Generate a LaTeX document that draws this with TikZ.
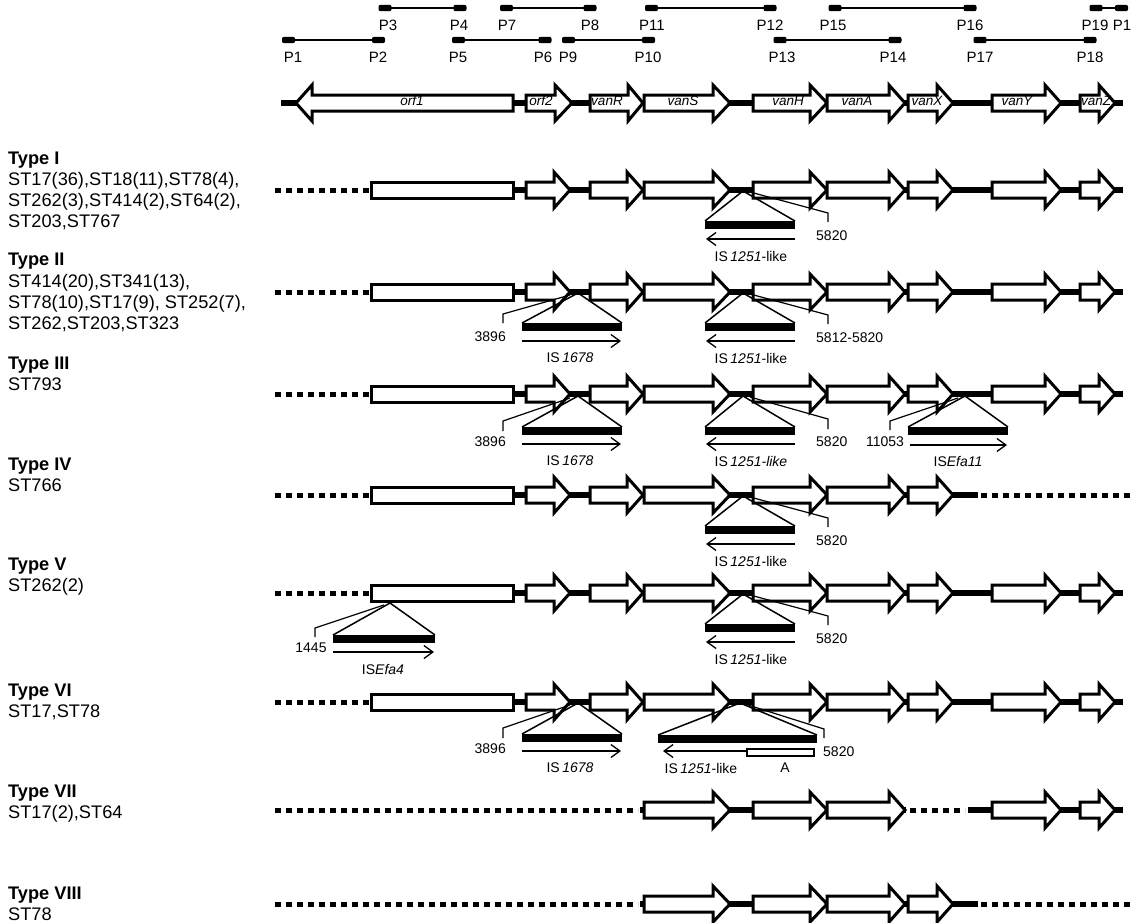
\documentclass[tikz,border=0pt]{standalone}
\usepackage{fontspec}
\setmainfont{Liberation Sans}
\usetikzlibrary{arrows.meta}
\tikzset{
  gene/.style={draw=black, fill=white, line width=3pt, line join=miter, miter limit=10},
  bb/.style={line width=6pt},
  dotl/.style={line width=5pt, dash pattern=on 6pt off 5pt},
  leader/.style={line width=1.2pt},
  tri/.style={line width=1.5pt, line join=round},
  isarr/.style={line width=1.3pt, -{Straight Barb[length=9pt,width=13pt,line width=1.3pt]}},
  lbl/.style={font=\fontsize{18.2}{22}\selectfont, inner sep=0pt, anchor=base west},
  ann/.style={font=\fontsize{14}{16}\selectfont, inner sep=0pt},
  gl/.style={font=\fontsize{13.5}{15}\selectfont\itshape, inner sep=0pt},
  pl/.style={font=\fontsize{15}{17}\selectfont, inner sep=0pt},
  pbar/.style={fill=black, rounded corners=2pt},
  pline/.style={line width=1.3pt}
}
\newcommand{\prm}[8]{% x1 x2 y label1 x label2 x name
  \draw[pline] (#1,#3) -- (#2,#3);
  \fill[pbar] (#1-6.5,#3-3.2) rectangle (#1+6.5,#3+3.2);
  \fill[pbar] (#2-6.5,#3-3.2) rectangle (#2+6.5,#3+3.2);
  \node[pl] (#8a) at (#5,#3+17) {#4};
  \node[pl] (#8b) at (#7,#3+17) {#6};
}
\newcommand{\garr}[4]{\draw[gene] (#1,#4-8) -- (#2,#4-8) -- (#2,#4-18) -- (#3,#4) -- (#2,#4+18) -- (#2,#4+8) -- (#1,#4+8) -- cycle;}
\newcommand{\leftpart}[1]{%
  \draw[dotl] (275,#1) -- (369,#1);
  \draw[gene] (371,#1-8) rectangle (513,#1+8);
  \garr{526}{554}{570}{#1}
  \garr{590}{627}{643}{#1}}
\newcommand{\midpart}[1]{%
  \garr{644}{713}{730}{#1}
  \garr{753}{810}{827}{#1}
  \garr{827}{889}{905}{#1}}
\newcommand{\xgene}[1]{\garr{908}{937}{953}{#1}}
\newcommand{\yzgenes}[1]{\garr{992}{1045}{1061}{#1}\garr{1080}{1099}{1115}{#1}}
\newcommand{\isins}[5]{% apex x, apex y, left x, right x, bar top y
  \draw[tri] (#3,#5) -- (#1,#2) -- (#4,#5);
  \fill (#3,#5) rectangle (#4,#5+8);}
\begin{document}
\begin{tikzpicture}[x=1pt,y=-1pt]
\useasboundingbox (0,0) rectangle (1133,922);
% ---------- primers ----------
\prm{385}{460}{8}{P3}{388}{P4}{459}{pa}
\prm{506.5}{590}{8}{P7}{507}{P8}{590}{pb}
\prm{651.5}{770}{8}{P11}{652}{P12}{770}{pc}
\prm{835}{970}{8}{P15}{833}{P16}{970}{pd}
\prm{1096}{1121.5}{8}{P19}{1095}{P1}{1122}{pe}
\prm{288.5}{378.5}{40}{P1}{293}{P2}{378}{pf}
\prm{458.5}{545}{40}{P5}{458}{P6}{543}{pg}
\prm{568.5}{648.5}{40}{P9}{568}{P10}{648}{ph}
\prm{780}{895}{40}{P13}{782}{P14}{893}{pi}
\prm{980}{1090}{40}{P17}{980}{P18}{1090}{pj}
% ---------- reference gene map ----------
\draw[bb] (281,103) -- (1123,103);
\garr{513}{312}{296}{103}
\garr{526}{555}{572}{103}
\garr{590}{628}{643}{103}
\midpart{103}
\xgene{103}
\yzgenes{103}
\node[gl] (gorf1) at (412,101) {orf1};
\node[gl] (gorf2) at (541,101) {orf2};
\node[gl] (gvanR) at (607,101) {vanR};
\node[gl] (gvanS) at (683,101) {vanS};
\node[gl] (gvanH) at (788,101) {vanH};
\node[gl] (gvanA) at (857,101) {vanA};
\node[gl] (gvanX) at (927,101) {vanX};
\node[gl] (gvanY) at (1017,101) {vanY};
\node[gl] (gvanZ) at (1096,101) {vanZ};
% ---------- Type I ----------
\node[lbl] (t1) at (8,164) {\textbf{Type I}};
\node[lbl] (t1a) at (8,185) {ST17(36),ST18(11),ST78(4),};
\node[lbl] (t1b) at (8,206) {ST262(3),ST414(2),ST64(2),};
\node[lbl] (t1c) at (8,227) {ST203,ST767};
\draw[bb] (513,190) -- (1123,190);
\leftpart{190}\midpart{190}\xgene{190}\yzgenes{190}
\isins{743}{191}{705}{795}{221}
\draw[isarr] (795,239) -- (706,239);
\node[ann] (i1a) at (751,256) {IS\hspace{2.5pt}\textit{1251}-like};
\draw[leader] (750,192) -- (828,213) -- (828,222);
\node[ann, anchor=west] (i1n) at (816,236) {5820};
% ---------- Type II ----------
\node[lbl] (t2) at (8,265) {\textbf{Type II}};
\node[lbl] (t2a) at (8,287) {ST414(20),ST341(13),};
\node[lbl] (t2b) at (8,308) {ST78(10),ST17(9), ST252(7),};
\node[lbl] (t2c) at (8,329) {ST262,ST203,ST323};
\draw[bb] (513,292) -- (1123,292);
\leftpart{292}\midpart{292}\xgene{292}\yzgenes{292}
\isins{578}{293}{522}{622}{323}
\draw[isarr] (522,341) -- (621,341);
\node[ann] (i2a) at (570,358) {IS\hspace{2.5pt}\textit{1678}};
\draw[leader] (570,295) -- (503,314) -- (503,323);
\node[ann, anchor=east] (i2n) at (506,337) {3896};
\isins{743}{293}{705}{795}{323}
\draw[isarr] (795,341) -- (706,341);
\node[ann] (i2b) at (751,358) {IS\hspace{2.5pt}\textit{1251}-like};
\draw[leader] (750,294) -- (828,315) -- (828,324);
\node[ann, anchor=west] (i2m) at (816,338) {5812-5820};
% ---------- Type III ----------
\node[lbl] (t3) at (8,369) {\textbf{Type III}};
\node[lbl] (t3a) at (8,390) {ST793};
\draw[bb] (513,394) -- (1123,394);
\leftpart{394}\midpart{394}\xgene{394}\yzgenes{394}
\isins{578}{396}{522}{622}{427}
\draw[isarr] (522,444) -- (621,444);
\node[ann] (i3a) at (570,461) {IS\hspace{2.5pt}\textit{1678}};
\draw[leader] (570,398) -- (503,421) -- (503,431);
\node[ann, anchor=east] (i3n) at (506,442) {3896};
\isins{743}{396}{705}{795}{427}
\draw[isarr] (795,444) -- (706,444);
\node[ann] (i3b) at (751,461) {IS\hspace{2.5pt}\textit{1251-like}};
\draw[leader] (750,397) -- (828,419) -- (828,429);
\node[ann, anchor=west] (i3m) at (816,442) {5820};
\isins{965}{396}{908}{1008}{427}
\draw[isarr] (910,445) -- (1007,445);
\node[ann] (i3c) at (958,461) {IS\textit{Efa11}};
\draw[leader] (958,398) -- (890,421) -- (890,430);
\node[ann] (i3o) at (885,442) {11053};
% ---------- Type IV ----------
\node[lbl] (t4) at (8,470) {\textbf{Type IV}};
\node[lbl] (t4a) at (8,491) {ST766};
\draw[bb] (513,495) -- (978,495);
\draw[dotl] (981,495) -- (1133,495);
\leftpart{495}\midpart{495}\xgene{495}
\isins{743}{496}{705}{795}{526}
\draw[isarr] (795,544) -- (706,544);
\node[ann] (i4a) at (751,561) {IS\hspace{2.5pt}\textit{1251}-like};
\draw[leader] (750,497) -- (828,518) -- (828,527);
\node[ann, anchor=west] (i4n) at (816,541) {5820};
% ---------- Type V ----------
\node[lbl] (t5) at (8,570) {\textbf{Type V}};
\node[lbl] (t5a) at (8,591) {ST262(2)};
\draw[bb] (513,593) -- (1123,593);
\leftpart{593}\midpart{593}\xgene{593}\yzgenes{593}
\isins{390}{603}{333}{435}{635}
\draw[isarr] (333,652) -- (434,652);
\node[ann] (i5a) at (383,669) {IS\textit{Efa4}};
\draw[leader] (384,605) -- (315,628) -- (315,637);
\node[ann] (i5n) at (311,648) {1445};
\isins{743}{594}{705}{795}{624}
\draw[isarr] (795,642) -- (706,642);
\node[ann] (i5b) at (751,659) {IS\hspace{2.5pt}\textit{1251}-like};
\draw[leader] (750,595) -- (828,616) -- (828,625);
\node[ann, anchor=west] (i5m) at (816,639) {5820};
% ---------- Type VI ----------
\node[lbl] (t6) at (8,696) {\textbf{Type VI}};
\node[lbl] (t6a) at (8,717) {ST17,ST78};
\draw[bb] (513,702) -- (1123,702);
\leftpart{702}\midpart{702}\xgene{702}\yzgenes{702}
\isins{578}{703}{522}{622}{734}
\draw[isarr] (522,751) -- (621,751);
\node[ann] (i6a) at (570,768) {IS\hspace{2.5pt}\textit{1678}};
\draw[leader] (570,705) -- (503,728) -- (503,738);
\node[ann, anchor=east] (i6n) at (506,749) {3896};
\isins{740}{703}{658}{817}{735}
\draw[line width=2.5pt, fill=white] (747,749) rectangle (814,756);
\draw[isarr] (747,751) -- (663,751);
\node[ann] (i6b) at (701,768) {IS\hspace{2.5pt}\textit{1251}-like};
\node[ann] (i6c) at (785,768) {A};
\draw[leader] (748,705) -- (824,729) -- (824,738);
\node[ann, anchor=west] (i6m) at (823,752) {5820};
% ---------- Type VII ----------
\node[lbl] (t7) at (8,797) {\textbf{Type VII}};
\node[lbl] (t7a) at (8,818) {ST17(2),ST64};
\draw[dotl] (275,810) -- (638,810);
\draw[bb] (640,810) -- (906,810);
\draw[dotl] (910,810) -- (965,810);
\draw[bb] (968,810) -- (1123,810);
\midpart{810}\yzgenes{810}
% ---------- Type VIII ----------
\node[lbl] (t8) at (8,899) {\textbf{Type VIII}};
\node[lbl] (t8a) at (8,920) {ST78};
\draw[dotl] (275,904) -- (638,904);
\draw[bb] (640,904) -- (978,904);
\draw[dotl] (981,904) -- (1133,904);
\midpart{904}\xgene{904}
\end{tikzpicture}
\end{document}
